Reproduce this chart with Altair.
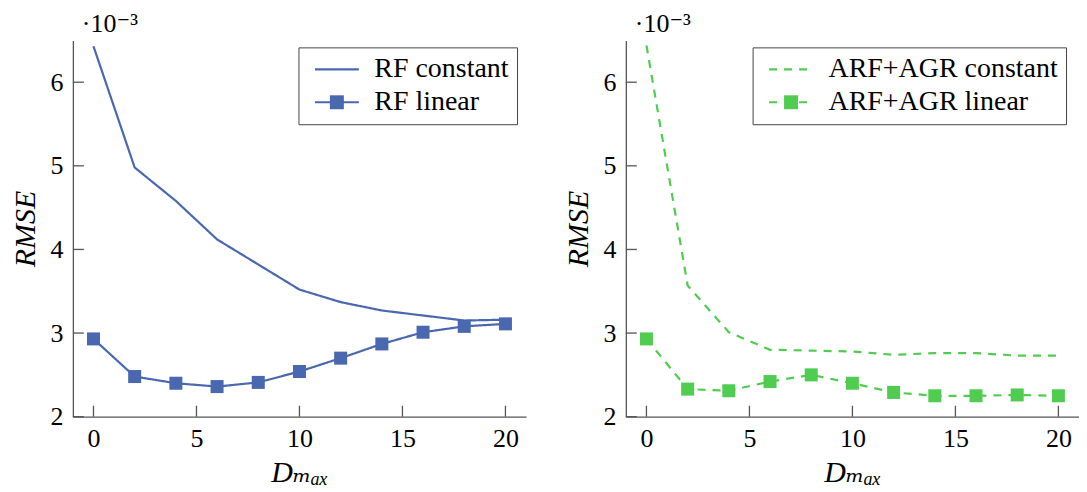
import altair as alt
import pandas as pd

# ---- data (values in units of 1e-3) ----
d_max = [0, 2, 4, 6, 8, 10, 12, 14, 16, 18, 20]
rf_constant = [6.43, 4.98, 4.58, 4.12, 3.82, 3.52, 3.37, 3.27, 3.21, 3.15, 3.16]
rf_linear = [2.93, 2.48, 2.40, 2.36, 2.41, 2.54, 2.70, 2.87, 3.01, 3.08, 3.11]
arf_constant = [6.44, 3.57, 3.01, 2.80, 2.79, 2.78, 2.74, 2.76, 2.76, 2.73, 2.73]
arf_linear = [2.93, 2.33, 2.31, 2.42, 2.50, 2.40, 2.29, 2.25, 2.25, 2.26, 2.25]
x_ticks = [0, 5, 10, 15, 20]
y_ticks = [2, 3, 4, 5, 6]
left_names = ["RF constant", "RF linear"]
right_names = ["ARF+AGR constant", "ARF+AGR linear"]
scale_label = ["·10⁻³"]

FONT = "Liberation Serif, DejaVu Serif, serif"
BLUE = "#4A68B0"
GREEN = "#50CC50"
AXIS = "#555555"
W, H = 454, 377
XDOM = [-1, 21]
YDOM = [2, 6.5]
FS = 26
LFS = 28
TFS = 30

LINE_PATH = "M-1,0H7"
SQ_PATH = "M1.73,-1.27H4.27V1.27H1.73Z"
EMPTY_PATH = "M3,0Z"


def panel(const_vals, lin_vals, names, color, dash, leg_x):
    df = pd.DataFrame({
        "x": d_max + d_max,
        "y": const_vals + lin_vals,
        "series": [names[0]] * len(d_max) + [names[1]] * len(d_max),
    })
    df["key"] = df["series"] + " "
    xs = alt.Scale(domain=XDOM, nice=False, zero=False)
    ys = alt.Scale(domain=YDOM, nice=False, zero=False)
    xa = alt.Axis(title="Dₘₐₓ", values=x_ticks)
    ya = alt.Axis(title="RMSE", values=y_ticks)
    X = alt.X("x:Q", scale=xs, axis=xa)
    Y = alt.Y("y:Q", scale=ys, axis=ya)

    common_leg = dict(
        title=None, orient="none", legendX=leg_x, legendY=7,
        labelFont=FONT, labelFontSize=LFS, labelLimit=500,
        padding=8, rowPadding=5, symbolSize=121, labelOffset=40)

    dash_val = dash if dash else [1, 0]
    lines = alt.Chart(df).mark_line(color=color, strokeWidth=2.2).encode(
        x=X, y=Y,
        strokeDash=alt.StrokeDash(
            "series:N", scale=alt.Scale(domain=names, range=[dash_val, dash_val]),
            legend=alt.Legend(symbolType=LINE_PATH, labelColor="black",
                              strokeColor="#444444", fillColor="white",
                              symbolStrokeWidth=2.2, **common_leg)))

    squares = alt.Chart(df).transform_filter(alt.datum.series == names[1]).mark_square(
        size=170, opacity=1, color=color).encode(x=X, y=Y)

    # legend-only layer for the square markers (draws no marks)
    key = alt.Chart(df).transform_filter(alt.datum.y < 0).mark_point(
        filled=True, color=color, opacity=1).encode(
        x=X, y=Y,
        shape=alt.Shape("key:N",
                        scale=alt.Scale(domain=[n + " " for n in names],
                                        range=[EMPTY_PATH, SQ_PATH]),
                        legend=alt.Legend(labelColor="transparent", labelOpacity=0,
                                          strokeColor="transparent", fillColor="transparent",
                                          **common_leg)))

    xt = alt.Chart(pd.DataFrame({"x": x_ticks})).mark_rule(color=AXIS, strokeWidth=1.3).encode(
        x=X, y=alt.value(H), y2=alt.value(H - 11))
    yt = alt.Chart(pd.DataFrame({"y": y_ticks})).mark_rule(color=AXIS, strokeWidth=1.3).encode(
        y=Y, x=alt.value(0), x2=alt.value(11))

    mult = alt.Chart(pd.DataFrame({"s": scale_label})).mark_text(
        font=FONT, fontSize=FS, color="black", align="left", baseline="alphabetic").encode(
        text="s:N", x=alt.value(9), y=alt.value(-8))

    return alt.layer(lines, xt, yt, squares, key, mult).properties(width=W, height=H)


left = panel(rf_constant, rf_linear, left_names, BLUE, None, 226)
right = panel(arf_constant, arf_linear, right_names, GREEN, [8, 7], 127)

chart = alt.hconcat(left, right, spacing=38).resolve_scale(
    shape="independent", strokeDash="independent").resolve_legend(
    shape="independent", strokeDash="independent").properties(
    padding={"left": 3, "top": 3, "right": 0, "bottom": 0}
).configure_view(stroke=None).configure_axis(
    grid=False, ticks=False, tickSize=0, domainColor=AXIS, domainWidth=1.3,
    labelFont=FONT, labelFontSize=FS, labelColor="black", labelFlush=False,
    titleFont=FONT, titleFontSize=TFS, titleFontStyle="italic", titleFontWeight="normal",
    titleColor="black"
).configure_axisX(labelPadding=9, titlePadding=6).configure_axisY(
    labelPadding=10, titlePadding=9)

chart.save("out.html", embed_options={"renderer": "svg", "actions": False})
